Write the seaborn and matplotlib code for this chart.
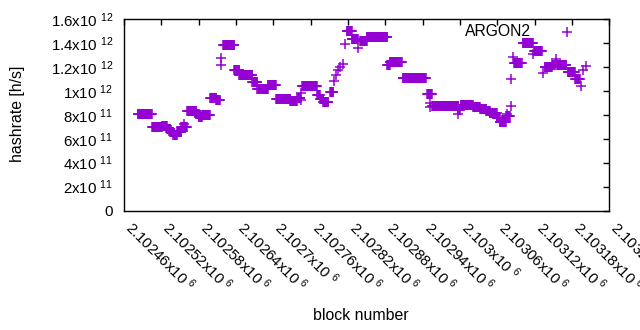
import pandas as pd
import seaborn as sns
import matplotlib.pyplot as plt

# runs of blocks where the estimated hashrate stays the same
seg_start = [2102482, 2102505, 2102513, 2102521, 2102529, 2102534, 2102539, 2102545, 2102552,
             2102561, 2102576, 2102580, 2102585, 2102598, 2102608, 2102619, 2102637, 2102645,
             2102666, 2102674, 2102683, 2102691, 2102704, 2102727, 2102738, 2102746, 2102770,
             2102775, 2102780, 2102791, 2102818, 2102826, 2102839, 2102850, 2102883, 2102887,
             2102908, 2102947, 2102955, 2102997, 2103001, 2103021, 2103032, 2103042, 2103048,
             2103059, 2103064, 2103074, 2103087, 2103101, 2103119, 2103136, 2103148, 2103156,
             2103173, 2103185]
seg_end = [2102504, 2102513, 2102521, 2102529, 2102534, 2102539, 2102545, 2102552, 2102561,
           2102576, 2102580, 2102585, 2102598, 2102608, 2102614, 2102637, 2102645, 2102666,
           2102674, 2102683, 2102691, 2102704, 2102727, 2102738, 2102743, 2102770, 2102775,
           2102780, 2102788, 2102796, 2102826, 2102836, 2102850, 2102883, 2102887, 2102906,
           2102945, 2102955, 2102997, 2103000, 2103021, 2103032, 2103042, 2103048, 2103059,
           2103064, 2103074, 2103080, 2103099, 2103117, 2103132, 2103148, 2103152, 2103171,
           2103185, 2103193]
seg_rate = [8.10e11, 6.95e11, 7.00e11, 7.06e11, 6.80e11, 6.53e11, 6.30e11, 6.56e11, 6.95e11,
            8.34e11, 8.06e11, 7.79e11, 7.95e11, 9.40e11, 9.20e11, 1.380e12, 1.174e12, 1.132e12,
            1.071e12, 1.020e12, 1.013e12, 1.046e12, 9.34e11, 9.12e11, 9.37e11, 1.037e12, 9.65e11,
            9.29e11, 9.07e11, 9.90e11, 1.500e12, 1.433e12, 1.419e12, 1.452e12, 1.220e12, 1.243e12,
            1.105e12, 9.73e11, 8.73e11, 8.40e11, 8.81e11, 8.62e11, 8.46e11, 8.30e11, 8.17e11,
            7.70e11, 7.40e11, 7.90e11, 1.230e12, 1.397e12, 1.330e12, 1.196e12, 1.220e12, 1.216e12,
            1.160e12, 1.096e12]

# lone blocks
single_block = [2102556, 2102615, 2102616, 2102745, 2102745, 2102797, 2102800, 2102804,
                2102807, 2102812, 2102815, 2102836, 2102952, 2102952, 2102997, 2103076,
                2103082, 2103082, 2103085, 2103117, 2103133, 2103154, 2103194, 2103197, 2103202]
single_rate = [7.20e11, 1.215e12, 1.277e12, 9.80e11, 9.20e11, 1.085e12, 1.130e12, 1.174e12,
               1.200e12, 1.224e12, 1.389e12, 1.355e12, 8.96e11, 8.62e11, 8.04e11, 8.06e11,
               8.73e11, 1.096e12, 1.285e12, 1.305e12, 1.146e12, 1.270e12, 1.043e12, 1.174e12, 1.207e12]

xticks = [2102460 + 60 * i for i in range(14)]
xlabels = ['2.10246', '2.10252', '2.10258', '2.10264', '2.1027', '2.10276', '2.10282',
           '2.10288', '2.10294', '2.103', '2.10306', '2.10312', '2.10318', '2.10324']
yticks = [0, 2e11, 4e11, 6e11, 8e11, 1e12, 1.2e12, 1.4e12, 1.6e12]
ylabels = ['0', '2x10 $^{11}$', '4x10 $^{11}$', '6x10 $^{11}$', '8x10 $^{11}$',
           '1x10 $^{12}$', '1.2x10 $^{12}$', '1.4x10 $^{12}$', '1.6x10 $^{12}$']

blocks, rates = [], []
for s, e, r in zip(seg_start, seg_end, seg_rate):
    for b in range(s, e + 1):
        blocks.append(b)
        rates.append(r)
df = pd.DataFrame({'block': blocks + single_block, 'hashrate': rates + single_rate})

sns.set_style('white')
plt.rcParams['font.family'] = ['Liberation Sans', 'DejaVu Sans']
plt.rcParams['mathtext.fontset'] = 'custom'
plt.rcParams['mathtext.rm'] = 'Liberation Sans'
plt.rcParams['mathtext.it'] = 'Liberation Sans'
plt.rcParams['text.color'] = 'black'
plt.rcParams['xtick.color'] = 'black'
plt.rcParams['ytick.color'] = 'black'

fig = plt.figure(figsize=(6.4, 3.3), dpi=100)
ax = fig.add_axes([0.194, 0.362, 0.758, 0.58])
sns.scatterplot(data=df, x='block', y='hashrate', marker='+', color='#9400d3',
                s=45, linewidth=1.1, label='ARGON2', ax=ax)

ax.set_xlim(2102460, 2103240)
ax.set_ylim(0, 1.6e12)
ax.set_xticks(xticks)
ax.set_xticklabels([l + 'x10 $^{6}$' for l in xlabels], rotation=-45, ha='left', va='baseline',
                   rotation_mode='anchor', fontsize=10.8)
ax.set_yticks(yticks)
ax.set_yticklabels(ylabels, fontsize=10.8)
ax.tick_params(direction='in', top=True, right=True, length=4, width=1, color='black',
               labelcolor='black')
ax.tick_params(axis='y', pad=8)
ax.tick_params(axis='x', pad=13)
for sp in ax.spines.values():
    sp.set_color('black')
    sp.set_linewidth(1)
ax.set_xlabel('')
ax.set_ylabel('')

fig.text(0.027, 0.654, 'hashrate [h/s]', rotation=90, ha='center', va='center', fontsize=11.4)
fig.text(0.563, 0.045, 'block number', ha='center', va='center', fontsize=11.4)

ax.legend(loc='upper right', bbox_to_anchor=(0.945, 0.972), frameon=False, markerfirst=False,
          fontsize=11.3, borderpad=0, borderaxespad=0, handletextpad=1.3)

fig.savefig('out.png', dpi=100)
